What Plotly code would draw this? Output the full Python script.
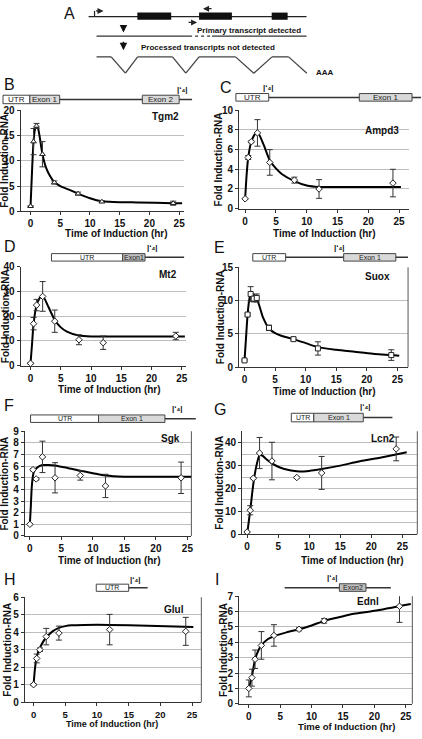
import plotly.graph_objects as go

W, H = 422, 739

# ---------------- data ----------------
time_pts = [0, 0.5, 1, 2, 4, 8, 12, 24]

tgm2_y = [1.0, 13.8, 16.9, 11.3, 5.7, 3.5, 1.9, 1.6]
tgm2_err = [0.1, 2.6, 0.5, 2.5, 0.3, 0.3, 0.2, 0.4]
tgm2_fit_x = [0, 0.25, 0.5, 0.75, 1, 1.25, 1.5, 2, 2.5, 3, 4, 5, 6, 8, 10, 12, 14, 18, 24, 25.5]
tgm2_fit_y = [1, 8, 13.8, 16.3, 17.0, 16.5, 15.0, 11.3, 9.0, 7.6, 5.8, 5.0, 4.5, 3.5, 2.6, 2.0, 1.85, 1.75, 1.6, 1.6]

ampd3_y = [1.0, 5.2, 6.8, 7.7, 4.7, 2.9, 2.0, 2.6]
ampd3_err = [0.05, 0.2, 0.1, 1.35, 1.3, 0.3, 0.95, 1.4]
ampd3_fit_x = [0, 0.25, 0.5, 1, 1.5, 1.8, 2.2, 3, 4, 5, 6, 8, 10, 12, 15, 25.3]
ampd3_fit_y = [1, 3.5, 5.2, 6.8, 7.5, 7.7, 7.6, 6.5, 4.9, 4.1, 3.5, 2.8, 2.35, 2.2, 2.2, 2.2]

mt2_y = [1.0, 17.0, 24.5, 28.0, 18.0, 10.5, 9.3, 12.0]
mt2_err = [0.3, 2.5, 2.3, 6.0, 4.5, 2.0, 2.7, 1.5]
mt2_fit_x = [0, 0.25, 0.5, 1, 1.5, 1.8, 2.2, 3, 4, 5, 6, 8, 10, 15, 25.5]
mt2_fit_y = [1, 9, 17, 24.5, 27.3, 28, 27.5, 23.5, 18.5, 15.5, 13.8, 12.2, 11.8, 11.8, 11.8]

suox_x = [0, 0.5, 1, 1.5, 2, 4, 8, 12, 24]
suox_y = [1.0, 7.9, 11.0, 10.3, 10.4, 5.9, 4.2, 2.8, 1.8]
suox_err = [0.1, 0.2, 1.1, 0.5, 0.6, 0.4, 0.2, 1.0, 0.8]
suox_fit_x = [0, 0.25, 0.5, 0.75, 1, 1.5, 2, 2.5, 3, 4, 5, 6, 8, 10, 12, 15, 18, 21, 25.3]
suox_fit_y = [1, 4.5, 7.9, 10, 11.0, 10.9, 10.3, 9, 7.5, 5.8, 5.1, 4.7, 4.2, 3.6, 3.0, 2.6, 2.3, 2.0, 1.7]

sgk_y = [1.0, 5.7, 4.9, 6.8, 5.0, 5.2, 4.3, 5.0]
sgk_err = [0.05, 0.1, 0.1, 1.35, 1.3, 0.4, 1.0, 1.35]
sgk_fit_x = [0, 0.15, 0.3, 0.5, 0.7, 1, 1.5, 2, 3, 4, 5, 6, 8, 10, 12, 15, 20, 25.7]
sgk_fit_y = [1, 2.5, 4.2, 5.2, 5.6, 5.8, 6.0, 6.1, 6.1, 6.05, 5.95, 5.85, 5.6, 5.4, 5.2, 5.1, 5.1, 5.1]

lcn2_y = [1.0, 10.5, 24.5, 35.5, 32.0, 24.8, 26.8, 37.3]
lcn2_err = [0.3, 2.0, 0.3, 6.8, 8.2, 0.3, 7.2, 5.2]
lcn2_fit_x = [0, 0.5, 1, 1.5, 2, 2.5, 3, 4, 5, 6, 8, 10, 12, 15, 18, 22, 25.7]
lcn2_fit_y = [0, 10.5, 22, 30, 34.5, 34.3, 33, 31, 29.5, 28.5, 27.5, 27.7, 28.5, 30, 31.8, 33.8, 35.8]

glul_x = [0, 0.5, 1, 2, 4, 12, 24]
glul_y = [1.0, 2.5, 3.0, 3.75, 3.95, 4.15, 4.05]
glul_err = [0.05, 0.25, 0.1, 0.47, 0.4, 0.87, 0.8]
glul_fit_x = [0, 0.25, 0.5, 1, 1.5, 2, 3, 4, 5, 6, 8, 12, 18, 25.2]
glul_fit_y = [1, 2.0, 2.6, 3.1, 3.45, 3.7, 4.05, 4.25, 4.35, 4.4, 4.42, 4.42, 4.37, 4.3]

ednl_y = [1.0, 1.7, 2.9, 3.8, 4.45, 4.85, 5.4, 6.35]
ednl_err = [0.55, 0.55, 0.6, 0.9, 0.7, 0.1, 0.15, 1.05]
ednl_fit_x = [0, 0.25, 0.5, 1, 1.5, 2, 3, 4, 6, 8, 10, 12, 14, 16, 20, 25.8]
ednl_fit_y = [1.0, 1.4, 1.8, 2.9, 3.45, 3.8, 4.2, 4.4, 4.65, 4.85, 5.1, 5.4, 5.6, 5.8, 6.05, 6.5]

# ---------------- panel layout (pixel boxes) ----------------
def px(x):
    return x / W

def py(y):
    return 1 - y / H

panels = [
    dict(gene="Tgm2", x=time_pts, y=tgm2_y, e=tgm2_err, fx=tgm2_fit_x, fy=tgm2_fit_y, sym="triangle-up",
         L=20.7, R=185, X0=30.7, X25=180, T=106, B=208.7, ymax=20, dt=5, minor=None, rf=False,
         xt=(116.7, 231.7), yt=5, gl=(182, 112), tsz=10, ksz=10),
    dict(gene="Ampd3", x=time_pts, y=ampd3_y, e=ampd3_err, fx=ampd3_fit_x, fy=ampd3_fit_y, sym="diamond",
         L=240.3, R=411, X0=246.3, X25=401, T=106, B=206, ymax=10, dt=2, minor=None, rf=False,
         xt=(326, 231), yt=220, gl=(403, 127), tsz=10, ksz=10),
    dict(gene="Mt2", x=time_pts, y=mt2_y, e=mt2_err, fx=mt2_fit_x, fy=mt2_fit_y, sym="diamond",
         L=20.7, R=187, X0=30.7, X25=182.7, T=265, B=365.7, ymax=40, dt=10, minor=None, rf=False,
         xt=(110, 390), yt=5, gl=(180, 273), tsz=10, ksz=10),
    dict(gene="Suox", x=suox_x, y=suox_y, e=suox_err, fx=suox_fit_x, fy=suox_fit_y, sym="square",
         L=240.3, R=410, X0=245.7, X25=399.3, T=265.7, B=367, ymax=15, dt=5, minor=None, rf=True,
         xt=(326, 391.7), yt=221, gl=(394, 275), tsz=10, ksz=10),
    dict(gene="Sgk", x=time_pts, y=sgk_y, e=sgk_err, fx=sgk_fit_x, fy=sgk_fit_y, sym="diamond",
         L=25, R=192.3, X0=30, X25=188.3, T=432.3, B=538.7, ymax=9, dt=1, minor=None, rf=True,
         xt=(110, 563.3), yt=5, gl=(183, 439.5), tsz=10, ksz=10),
    dict(gene="Lcn2", x=time_pts, y=lcn2_y, e=lcn2_err, fx=lcn2_fit_x, fy=lcn2_fit_y, sym="diamond",
         L=243.3, R=419.3, X0=248.3, X25=404.3, T=432.3, B=537, ymax=45, dt=10, minor=5, rf=True,
         xt=(354, 563.3), yt=221, gl=(399, 439.5), tsz=10, ksz=10),
    dict(gene="Glul", x=glul_x, y=glul_y, e=glul_err, fx=glul_fit_x, fy=glul_fit_y, sym="diamond",
         L=25, R=202.3, X0=33.7, X25=193, T=601, B=707.7, ymax=6, dt=1, minor=None, rf=True,
         xt=(113, 729.5), yt=8, gl=(187, 613), tsz=9, ksz=9.5),
    dict(gene="Ednl", x=time_pts, y=ednl_y, e=ednl_err, fx=ednl_fit_x, fy=ednl_fit_y, sym="diamond",
         L=240.3, R=414.3, X0=250, X25=407.7, T=600, B=709.3, ymax=7, dt=1, minor=None, rf=True,
         xt=(348, 732), yt=224, gl=(383, 605), tsz=9.5, ksz=10),
]

fig = go.Figure()
annotations = []
shapes = []
FONT = "Liberation Sans, Arial, sans-serif"


def txt(x, y, s, size=10, bold=False, anchor="center", angle=0, color="#111111"):
    f = dict(family=FONT, size=size, color=color)
    if bold:
        f["weight"] = "bold"
    annotations.append(dict(x=px(x), y=py(y), xref="paper", yref="paper", text=s, showarrow=False,
                            xanchor=anchor, yanchor="middle", textangle=angle, font=f))


for i, p in enumerate(panels, start=1):
    sc = (p["X25"] - p["X0"]) / 25.0
    xr = [(p["L"] - p["X0"]) / sc, (p["R"] - p["X0"]) / sc]
    xa = "x" if i == 1 else f"x{i}"
    ya = "y" if i == 1 else f"y{i}"
    fig.add_trace(go.Scatter(
        x=p["fx"], y=p["fy"], mode="lines", line=dict(color="black", width=2, shape="spline", smoothing=0.6),
        xaxis=xa, yaxis=ya, showlegend=False, hoverinfo="skip"))
    fig.add_trace(go.Scatter(
        x=p["x"], y=p["y"], mode="markers",
        error_y=dict(type="data", array=p["e"], color="#333333", thickness=1, width=3),
        marker=dict(symbol=p["sym"], size=5, color="white", line=dict(width=1, color="#222222")),
        xaxis=xa, yaxis=ya, showlegend=False))
    xkey = "xaxis" if i == 1 else f"xaxis{i}"
    ykey = "yaxis" if i == 1 else f"yaxis{i}"
    tf = dict(family=FONT, size=p["ksz"], color="#111111", weight="bold")
    yax = dict(domain=[py(p["B"]), py(p["T"])], range=[0, p["ymax"]], dtick=p["dt"], tick0=0,
               showgrid=True, gridcolor="#bdbdbd", gridwidth=1, zeroline=False,
               showline=True, linecolor="#333333", linewidth=1, ticks="outside", ticklen=3,
               tickcolor="#333333", tickfont=dict(family=FONT, size=10, color="#111111", weight="bold"),
               anchor=xa, mirror=False, fixedrange=True, ticklabeloverflow="allow")
    if p["minor"]:
        yax["minor"] = dict(dtick=p["minor"], showgrid=True, gridcolor="#bdbdbd", gridwidth=1)
    fig.update_layout({
        xkey: dict(domain=[px(p["L"]), px(p["R"])], range=xr, dtick=5, tick0=0,
                   showgrid=False, zeroline=False, showline=True, linecolor="#333333", linewidth=1,
                   ticks="outside", ticklen=3, tickcolor="#333333", tickfont=tf,
                   anchor=ya, fixedrange=True, ticklabeloverflow="allow"),
        ykey: yax,
    })
    if p["rf"]:
        shapes.append(dict(type="line", xref="paper", yref="paper", x0=px(p["R"]), x1=px(p["R"]),
                           y0=py(p["B"]), y1=py(p["T"]), line=dict(color="#555555", width=1)))
    txt(p["xt"][0], p["xt"][1], "Time of Induction (hr)", size=p["tsz"], bold=True)
    txt(p["yt"], (p["T"] + p["B"]) / 2, "Fold Induction-RNA", size=10, bold=True, angle=-90)
    txt(p["gl"][0], p["gl"][1], p["gene"], size=10, bold=True, anchor="right")


# ---------------- gene diagrams ----------------
def line(x0, y0, x1, y1, color="#333333", w=1.5, dash=None):
    d = dict(color=color, width=w)
    if dash:
        d["dash"] = dash
    shapes.append(dict(type="line", xref="paper", yref="paper", x0=px(x0), y0=py(y0), x1=px(x1), y1=py(y1), line=d))


def box(x0, y0, x1, y1, fill, label=None, size=8):
    shapes.append(dict(type="rect", xref="paper", yref="paper", x0=px(x0), y0=py(y1), x1=px(x1), y1=py(y0),
                       fillcolor=fill, line=dict(color="#444444", width=1)))
    if label:
        txt((x0 + x1) / 2, (y0 + y1) / 2, label, size=size, color="#222222")


def arrow(hx, hy, tx, ty, w=1.2, color="#222222"):
    annotations.append(dict(x=px(hx), y=py(hy), ax=tx - hx, ay=ty - hy, xref="paper", yref="paper",
                            axref="pixel", ayref="pixel", showarrow=True, arrowhead=2, arrowsize=1,
                            arrowwidth=w, arrowcolor=color, text=""))


def primer(x, y):
    txt(x, y, "|ʻ₄|", size=8, bold=True)


EXON = "#d9d9d9"
# B
line(3, 95, 193, 95)
box(3, 90.7, 30, 99.3, "white", "UTR")
box(30, 90.7, 60, 99.3, EXON, "Exon 1")
box(143, 90.7, 180, 99.3, EXON, "Exon 2")
primer(183, 85)
txt(2, 80, "B", size=16, anchor="left")
# C
line(237, 93, 423, 93)
box(237, 89, 270, 96.7, "white", "UTR")
box(361, 89, 414, 96.7, EXON, "Exon 1")
primer(270, 83)
txt(219, 83, "C", size=16, anchor="left")
# D
line(52, 255.5, 185, 255.5)
box(51.7, 251.7, 123.3, 259.3, "white", "UTR", size=7)
box(123.3, 251.7, 145.7, 259.3, "#bfbfbf", "Exon1", size=7)
primer(153, 245)
txt(2, 244, "D", size=16, anchor="left")
# E
line(254, 255.5, 410, 255.5)
box(254, 251.7, 287, 259.3, "white", "UTR", size=7)
box(345.3, 251.7, 397.7, 259.3, EXON, "Exon 1", size=7)
primer(341, 245)
txt(213, 245, "E", size=16, anchor="left")
# F
line(31, 419.5, 196.7, 419.5)
box(30.7, 415.7, 99, 423.3, "white", "UTR", size=7)
box(99, 415.7, 165.7, 423.3, EXON, "Exon 1", size=7)
primer(178, 409)
txt(2, 406, "F", size=16, anchor="left")
# G
line(293, 418.3, 394.3, 418.3)
box(292.7, 414, 315.3, 422.7, "white", "UTR", size=7)
box(315.3, 414, 365, 422.7, EXON, "Exon 1", size=7)
primer(367, 407)
txt(213, 410, "G", size=16, anchor="left")
# H
line(97, 591.3, 148.3, 591.3)
box(96.7, 587.7, 129.3, 595, "white", "UTR", size=7)
primer(136, 583)
txt(2, 583, "H", size=16, anchor="left")
# I
line(286, 591.3, 392.7, 591.3)
box(341, 587.3, 367.7, 595, "#bfbfbf", "Exon2", size=7)
primer(334, 581)
txt(214, 583, "I", size=16, anchor="left")

# ---------------- panel A schematic ----------------
txt(62, 8, "A", size=16, anchor="left")
line(89, 10.7, 308, 10.7, color="#222222", w=1.2)
for (a, b) in [(138, 172), (200, 233), (273, 289)]:
    shapes.append(dict(type="rect", xref="paper", yref="paper", x0=px(a), x1=px(b), y0=py(14), y1=py(6.7),
                       fillcolor="#111111", line=dict(color="#111111", width=0)))
line(95, 10.7, 95, 5, color="#222222", w=1.2)
arrow(104, 5, 95, 5)
arrow(204, 2.7, 214, 2.7)
arrow(198, 16.7, 188, 16.7)
arrow(124, 27, 124, 18, w=1.5, color="#111111")
arrow(124, 45, 124, 35, w=1.5, color="#111111")
line(97, 30.7, 190, 30.7, color="#333333", w=1.2)
line(190, 30.7, 213, 30.7, color="#333333", w=1.2, dash="dot")
line(213, 30.7, 308, 30.7, color="#333333", w=1.2)
txt(250, 25, "Primary transcript detected", size=8, bold=True)
txt(209, 42.3, "Processed transcripts not detected", size=8, bold=True)
splice = [(97, 51.7), (111.7, 51.7), (126, 68.3), (138.3, 51.7), (173.3, 51.7), (186.7, 68.3), (200, 51.7),
          (236.7, 51.7), (255, 68.3), (273.3, 51.7), (290, 51.7), (308.3, 68.3)]
for (a, b) in zip(splice[:-1], splice[1:]):
    line(a[0], a[1], b[0], b[1], color="#444444", w=1.3)
txt(327, 68, "AAA", size=8, bold=True)

fig.update_layout(width=W, height=H, margin=dict(l=0, r=0, t=0, b=0), paper_bgcolor="white",
                  plot_bgcolor="white", annotations=annotations, shapes=shapes, showlegend=False)
fig.write_html("out.html", config={"displayModeBar": False},
               post_script="document.body.style.margin='0';")
